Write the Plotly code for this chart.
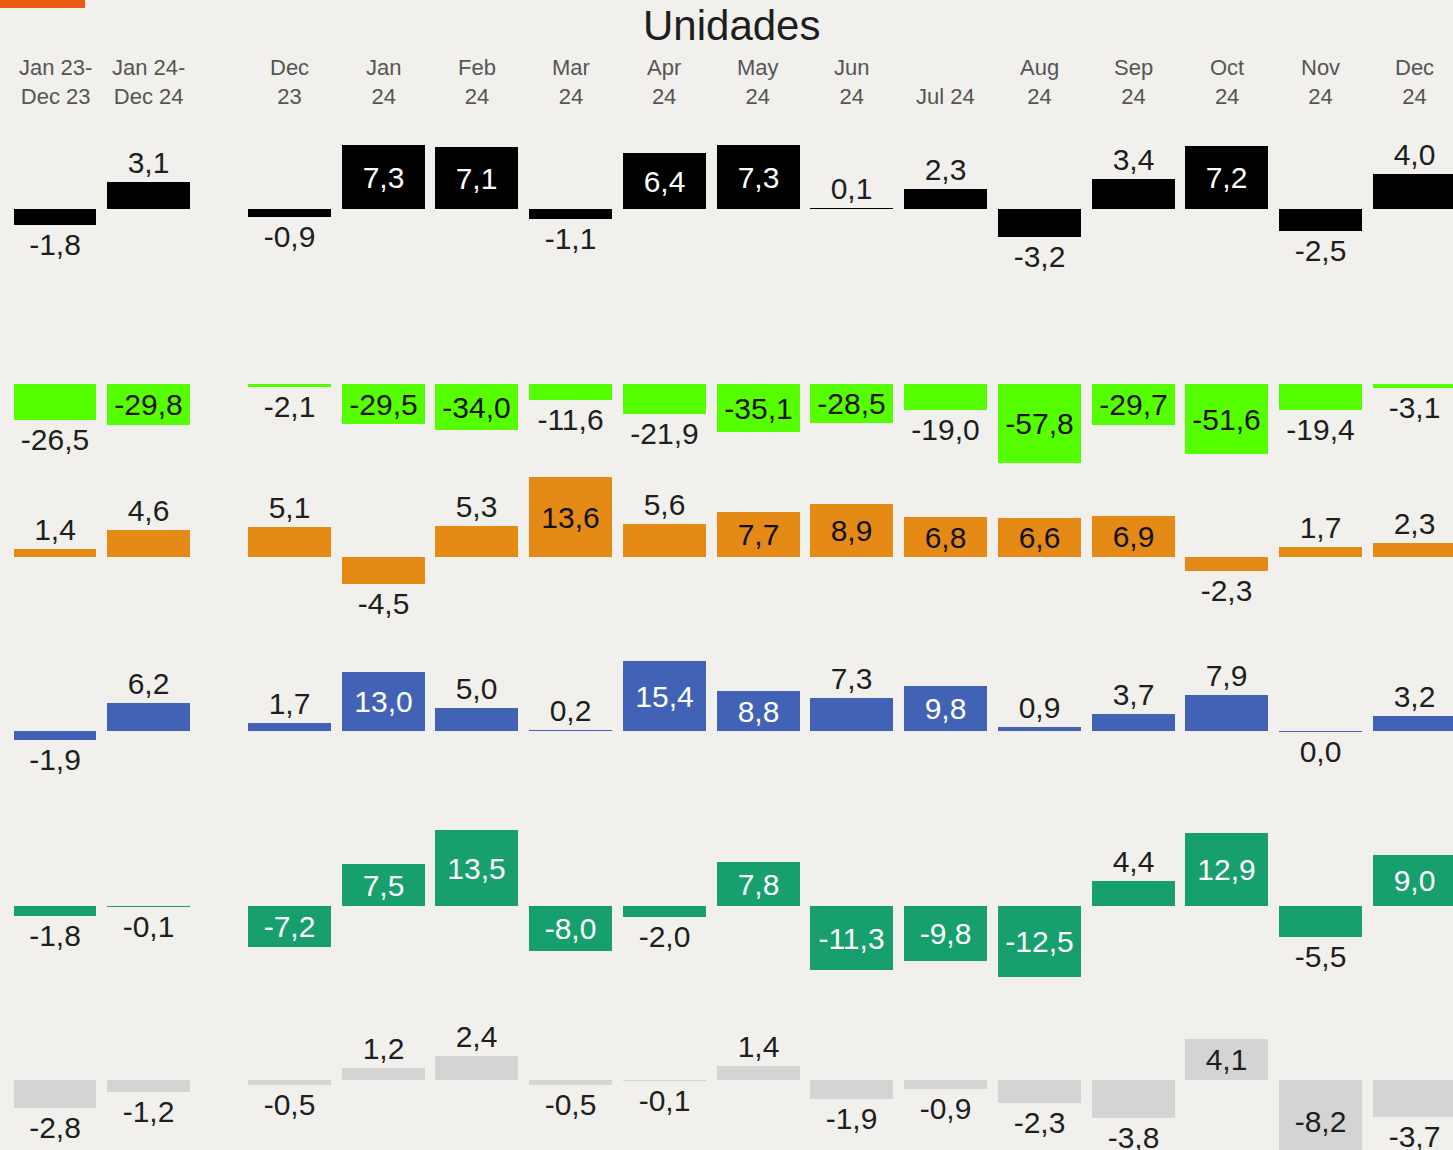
import plotly.graph_objects as go

# ---------------- data ----------------
columns = ["Jan 23-<br>Dec 23", "Jan 24-<br>Dec 24", "Dec<br>23", "Jan<br>24", "Feb<br>24",
           "Mar<br>24", "Apr<br>24", "May<br>24", "Jun<br>24", "Jul 24", "Aug<br>24",
           "Sep<br>24", "Oct<br>24", "Nov<br>24", "Dec<br>24"]

black = [-1.8, 3.1, -0.9, 7.3, 7.1, -1.1, 6.4, 7.3, 0.1, 2.3, -3.2, 3.4, 7.2, -2.5, 4.0]
lime = [-26.5, -29.8, -2.1, -29.5, -34.0, -11.6, -21.9, -35.1, -28.5, -19.0, -57.8, -29.7, -51.6, -19.4, -3.1]
orange = [1.4, 4.6, 5.1, -4.5, 5.3, 13.6, 5.6, 7.7, 8.9, 6.8, 6.6, 6.9, -2.3, 1.7, 2.3]
blue = [-1.9, 6.2, 1.7, 13.0, 5.0, 0.2, 15.4, 8.8, 7.3, 9.8, 0.9, 3.7, 7.9, -0.04, 3.2]
teal = [-1.8, -0.1, -7.2, 7.5, 13.5, -8.0, -2.0, 7.8, -11.3, -9.8, -12.5, 4.4, 12.9, -5.5, 9.0]
gray = [-2.8, -1.2, -0.5, 1.2, 2.4, -0.5, -0.1, 1.4, -1.9, -0.9, -2.3, -3.8, 4.1, -8.2, -3.7]

title_text = "Unidades"

# ---------------- layout constants ----------------
W, H = 1453, 1200          # page shows the top 1150 px; the last row runs past the bottom edge
BG = "#F1F0EC"
FONT = "Liberation Sans, Arial, sans-serif"
X0PX, SLOT = 55.0, 93.75
BAR_W = 0.885
INSIDE_MIN_PX = 38.5

# column positions: two annual columns, then a half-slot gap, then monthly columns
xpos = [0.0, 1.0] + [2.5 + i for i in range(len(columns) - 2)]

rows = [
    dict(values=black, color="#000000", infont="#FFFFFF", base=209, scale=8.75),
    dict(values=lime, color="#55FF00", infont="#111111", base=384, scale=1.365),
    dict(values=orange, color="#E68A17", infont="#111111", base=557, scale=5.9),
    dict(values=blue, color="#4162B5", infont="#FFFFFF", base=731, scale=4.55),
    dict(values=teal, color="#17A06E", infont="#FFFFFF", base=906, scale=5.65),
    dict(values=gray, color="#D4D4D4", infont="#1E1E1E", base=1080, scale=10.0),
]

fig = go.Figure()
layout_axes = {}
for i, r in enumerate(rows):
    top = max(0, r["base"] - 86)
    bot = min(H, r["base"] + 87)
    lo = -(bot - r["base"]) / r["scale"]
    hi = (r["base"] - top) / r["scale"]
    yname = "y" if i == 0 else f"y{i+1}"
    lname = "yaxis" if i == 0 else f"yaxis{i+1}"
    labels = [f"{round(v, 1) + 0.0:.1f}".replace(".", ",") for v in r["values"]]
    tpos = ["inside" if abs(v) * r["scale"] >= INSIDE_MIN_PX else "outside" for v in r["values"]]
    fig.add_trace(go.Bar(
        x=xpos, y=r["values"], xaxis="x", yaxis=yname,
        width=BAR_W, marker=dict(color=r["color"], line=dict(width=0)),
        text=labels, textposition=tpos, texttemplate="%{text}",
        insidetextanchor="middle", constraintext="none", textangle=0,
        insidetextfont=dict(family=FONT, size=30, color=r["infont"]),
        outsidetextfont=dict(family=FONT, size=30, color="#1E1E1E"),
        cliponaxis=False, showlegend=False, hoverinfo="skip",
    ))
    layout_axes[lname] = dict(
        domain=[1 - bot / H, 1 - top / H], range=[lo, hi], anchor="x",
        visible=False, showgrid=False, zeroline=False, fixedrange=True,
    )

annotations = []
for p, lab in zip(xpos, columns):
    annotations.append(dict(
        x=p, xref="x", y=1 - 111 / H, yref="paper", yanchor="bottom", xanchor="center",
        text=lab, showarrow=False, align="center",
        font=dict(family=FONT, size=22, color="#555555"),
    ))
annotations.append(dict(
    x=731 / W, xref="paper", y=1 - 25 / H, yref="paper", yanchor="middle", xanchor="center",
    text=title_text, showarrow=False, font=dict(family=FONT, size=42, color="#1E1E1E"),
))

fig.update_layout(
    width=W, height=H, margin=dict(l=0, r=0, t=0, b=0),
    paper_bgcolor=BG, plot_bgcolor=BG,
    xaxis=dict(range=[(0 - X0PX) / SLOT, (W - X0PX) / SLOT], domain=[0, 1],
               visible=False, showgrid=False, zeroline=False, fixedrange=True),
    annotations=annotations,
    shapes=[dict(type="rect", xref="paper", yref="paper", x0=0, x1=85 / W,
                 y0=1 - 8 / H, y1=1, fillcolor="#EA5B14", line=dict(width=0))],
    bargap=0, barmode="overlay",
)
fig.update_layout(**layout_axes)

fig.write_html(
    "out.html",
    config={"displayModeBar": False},
    post_script=(
        "document.body.style.margin='0';"
        "document.body.style.overflow='hidden';"
        "document.documentElement.style.overflow='hidden';"
        "document.body.style.background='#F1F0EC';"
    ),
)
